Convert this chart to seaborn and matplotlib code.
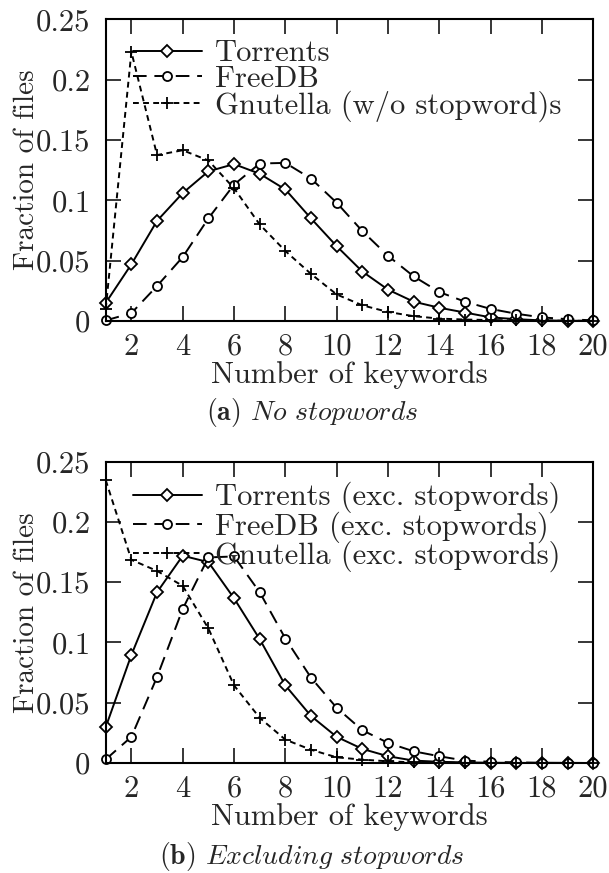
import numpy as np
import pandas as pd
import seaborn as sns
import matplotlib
matplotlib.use("Agg")
import matplotlib.pyplot as plt

# --- data (fraction of files per number of keywords)
keywords = list(range(1, 21))

torrents = [0.015, 0.047, 0.083, 0.106, 0.124, 0.130, 0.122, 0.109, 0.085, 0.062,
            0.041, 0.026, 0.016, 0.011, 0.007, 0.003, 0.0015, 0.0005, 0.0002, 0.0001]
freedb = [0.0005, 0.0065, 0.029, 0.053, 0.085, 0.113, 0.1305, 0.131, 0.118, 0.098,
          0.0745, 0.054, 0.037, 0.024, 0.016, 0.010, 0.006, 0.003, 0.0015, 0.0005]
gnutella = [0.010, 0.223, 0.1375, 0.1415, 0.133, 0.110, 0.080, 0.058, 0.039, 0.022,
            0.013, 0.0075, 0.004, 0.002, 0.0012, 0.0008, 0.0005, 0.0003, 0.0002, 0.0001]

torrents_exc = [0.0297, 0.0897, 0.1417, 0.172, 0.1667, 0.1367, 0.1028, 0.0644, 0.039, 0.0217,
                0.0117, 0.0056, 0.002, 0.001, 0.0005, 0.0002, 0.0001, 0.0, 0.0, 0.0]
freedb_exc = [0.003, 0.0217, 0.0714, 0.1278, 0.1706, 0.1714, 0.1417, 0.1033, 0.0708, 0.0458,
              0.0272, 0.0167, 0.0097, 0.0056, 0.002, 0.001, 0.0005, 0.0002, 0.0001, 0.0]
gnutella_exc = [0.2347, 0.1686, 0.1594, 0.147, 0.1117, 0.0644, 0.0375, 0.0194, 0.011, 0.0047,
                0.0028, 0.0014, 0.0005, 0.0002, 0.0001, 0.0, 0.0, 0.0, 0.0, 0.0]

labels_a = ["Torrents", "FreeDB", "Gnutella (w/o stopword)s"]
labels_b = ["Torrents (exc. stopwords)", "FreeDB (exc. stopwords)", "Gnutella (exc. stopwords)"]

xticks = list(range(2, 21, 2))
yticks = [0, 0.05, 0.1, 0.15, 0.2, 0.25]
ytick_labels = ["0", "0.05", "0.1", "0.15", "0.2", "0.25"]

sns.set_style("ticks")
plt.rcParams["font.family"] = ["cmr10", "DejaVu Serif"]
plt.rcParams["mathtext.fontset"] = "cm"
plt.rcParams["axes.formatter.use_mathtext"] = True
plt.rcParams["axes.unicode_minus"] = False

FS = 22

# gnuplot-like line styles
styles = [
    dict(linestyle="-", marker="D", markersize=6),
    dict(linestyle=(0, (7, 4)), marker="o", markersize=6.5),
    dict(linestyle=(0, (3, 2.2)), marker="+", markersize=9),
]


def draw_panel(ax, series, labels):
    for vals, lab, st in zip(series, labels, styles):
        sns.lineplot(x=keywords, y=vals, ax=ax, color="k", label=lab,
                     linewidth=1.4, markerfacecolor="white", markeredgecolor="k",
                     markeredgewidth=1.3, clip_on=False, **st)
    ax.set_xlim(1, 20)
    ax.set_ylim(0, 0.25)
    ax.set_xticks(xticks)
    ax.set_xticklabels([str(t) for t in xticks])
    ax.set_yticks(yticks)
    ax.set_yticklabels(ytick_labels)
    ax.tick_params(direction="in", length=11, width=1.3, labelsize=FS,
                   top=True, right=True, pad=9)
    ax.tick_params(axis="y", pad=11)
    for sp in ax.spines.values():
        sp.set_linewidth(1.5)
        sp.set_color("k")
    ax.set_xlabel("Number of keywords", fontsize=FS)
    ax.set_ylabel("Fraction of files", fontsize=21)
    ax.xaxis.set_label_coords(0.5, -0.132)
    ax.yaxis.set_label_coords(-0.135, 0.5)


fig = plt.figure(figsize=(6.09, 8.73), dpi=100)
ax1 = fig.add_axes([0.1736, 0.6323, 0.8006, 0.3456])
ax2 = fig.add_axes([0.1736, 0.1260, 0.8006, 0.3451])

draw_panel(ax1, [torrents, freedb, gnutella], labels_a)
draw_panel(ax2, [torrents_exc, freedb_exc, gnutella_exc], labels_b)

for ax, top_px in [(ax1, 40), (ax2, 482)]:
    h, l = ax.get_legend_handles_labels()
    ax.legend(h, l, loc="upper left", bbox_to_anchor=(133 / 609, 1 - top_px / 873),
              bbox_transform=fig.transFigure, frameon=False, fontsize=FS,
              borderpad=0, borderaxespad=0, handlelength=2.25, handletextpad=0.43,
              labelspacing=-0.07, markerscale=1.0)

fig.text(0.512, 1 - 420 / 873, r"$\mathbf{(a)}$ $\mathit{No\ stopwords}$",
         ha="center", va="baseline", fontsize=20)
fig.text(0.512, 1 - 864 / 873, r"$\mathbf{(b)}$ $\mathit{Excluding\ stopwords}$",
         ha="center", va="baseline", fontsize=20)

fig.savefig("out.png", dpi=100)
